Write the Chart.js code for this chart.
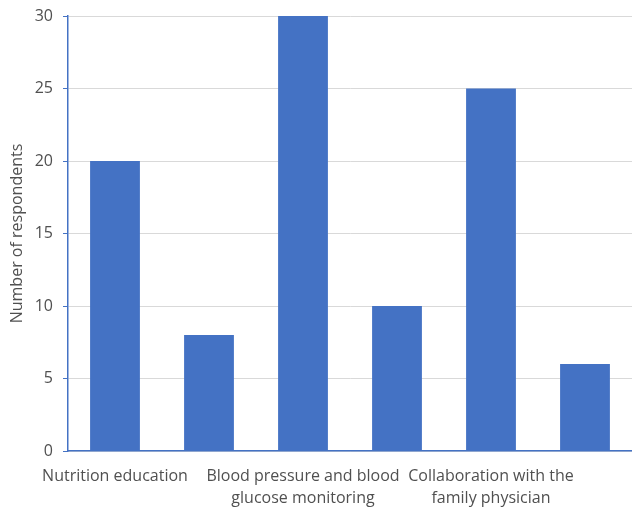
<!DOCTYPE html>
<html><head><meta charset="utf-8">
<script src="https://cdn.jsdelivr.net/npm/chart.js@4"></script>
<style>html,body{margin:0;padding:0;background:#fff}#wrap{width:632px;height:509px}</style>
</head><body><div id="wrap"><canvas id="c"></canvas></div>
<script>
const categories = [
  "Nutrition education",
  "",
  ["Blood pressure and blood", "glucose monitoring"],
  "",
  ["Collaboration with the", "family physician"],
  ""
];
const respondents = [20, 8, 30, 10, 25, 6];
const yTicks = [0, 5, 10, 15, 20, 25, 30];
const yTitle = "Number of respondents";

const FONT = "'Open Sans', sans-serif";
new Chart(document.getElementById('c'), {
  type: 'bar',
  data: {
    labels: categories,
    datasets: [{ data: respondents, backgroundColor: '#4472C4', borderWidth: 0,
      barPercentage: 0.53, categoryPercentage: 1 }]
  },
  options: {
    responsive: true, maintainAspectRatio: false, animation: false,
    devicePixelRatio: 1,
    layout: { padding: { top: 16, right: 0, left: 0, bottom: 0 } },
    plugins: { legend: { display: false }, tooltip: { enabled: false } },
    scales: {
      x: {
        grid: { display: false },
        border: { display: true, color: '#4472C4', width: 1.5 },
        ticks: { autoSkip: false, maxRotation: 0, minRotation: 0, padding: 6,
          color: '#505050', font: { family: FONT, size: 16, lineHeight: 1.4 } },
        afterFit: s => { s.height = 58; }
      },
      y: {
        min: 0, max: 30,
        afterBuildTicks: s => { s.ticks = yTicks.map(v => ({ value: v })); },
        grid: { color: '#d9d9d9', lineWidth: 1, tickLength: 5, tickColor: '#4472C4', drawTicks: true },
        border: { display: true, color: '#4472C4', width: 1.5 },
        ticks: { padding: 10, color: '#505050', font: { family: FONT, size: 16 } },
        title: { display: true, text: yTitle, color: '#505050', padding: { top: 8, bottom: 0 },
          font: { family: FONT, size: 16 } },
        afterFit: s => { s.width = 68; s.paddingTop = 0; s.paddingBottom = 0; }
      }
    }
  }
});
</script></body></html>
